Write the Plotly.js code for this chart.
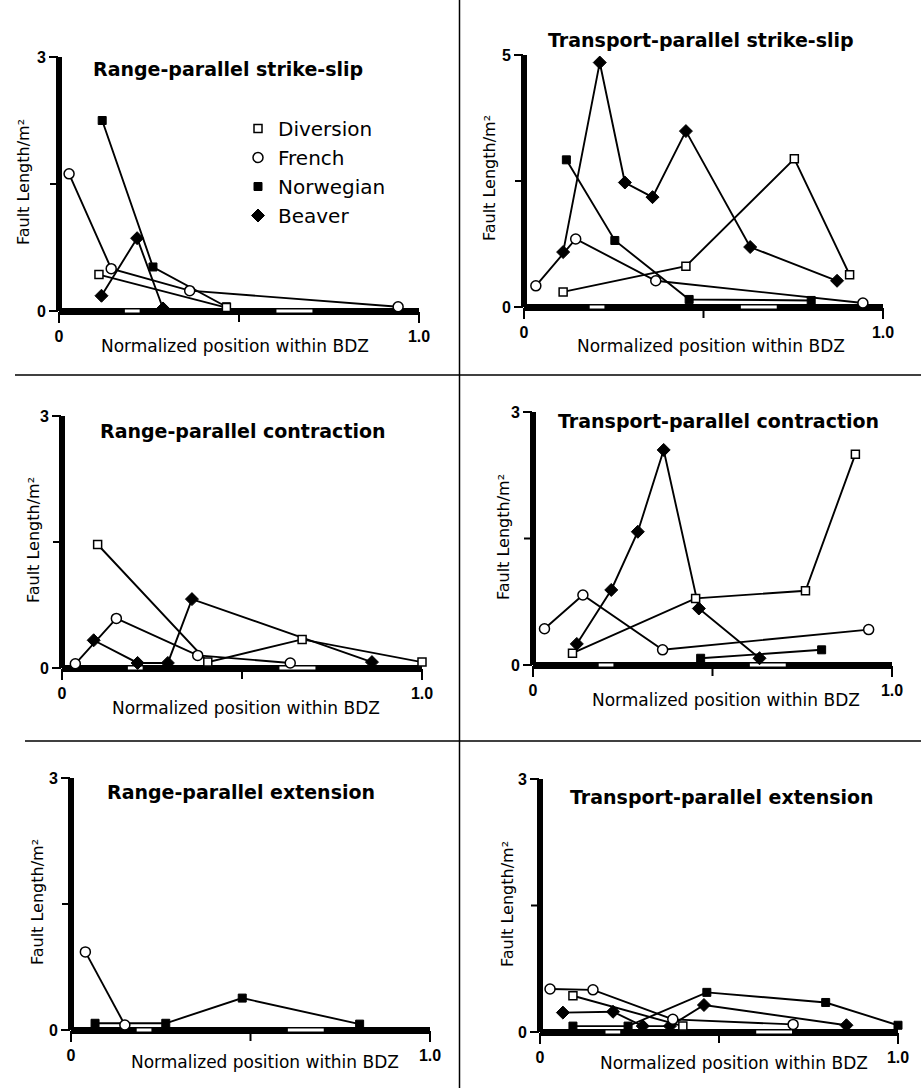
<!DOCTYPE html>
<html>
<head>
<meta charset="utf-8">
<script src="https://cdn.plot.ly/plotly-3.0.1.min.js"></script>
<style>html,body{margin:0;padding:0;background:#fff;}#chart{width:921px;height:1088px;}</style>
</head>
<body>
<div id="chart"></div>
<script>
// ---------- data ----------
const seriesNames = ['Diversion', 'French', 'Norwegian', 'Beaver'];
const panelTitles = ['Range-parallel strike-slip', 'Transport-parallel strike-slip',
  'Range-parallel contraction', 'Transport-parallel contraction',
  'Range-parallel extension', 'Transport-parallel extension'];
const yMaxes = [3, 5, 3, 3, 3, 3];
const xTickVals = [0, 1];
const xTickText = ['0', '1.0'];
const xMidTick = 0.5;
const xAxisTitle = 'Normalized position within BDZ';
const yAxisTitle = 'Fault Length/m²';
const zoneA = [0.183, 0.224];
const zoneB = [0.604, 0.704];

// Panel 1: Range-parallel strike-slip
const rpssDivX = [0.111, 0.465], rpssDivY = [0.43, 0.04];
const rpssFreX = [0.028, 0.145, 0.363, 0.942], rpssFreY = [1.62, 0.50, 0.24, 0.05];
const rpssNorX = [0.120, 0.261, 0.465], rpssNorY = [2.25, 0.52, 0.05];
const rpssBeaX = [0.118, 0.217, 0.289], rpssBeaY = [0.18, 0.86, 0.03];
// Panel 2: Transport-parallel strike-slip
const tpssDivX = [0.109, 0.451, 0.753, 0.907], tpssDivY = [0.30, 0.81, 2.94, 0.64];
const tpssFreX = [0.033, 0.144, 0.367, 0.944], tpssFreY = [0.42, 1.35, 0.52, 0.08];
const tpssNorX = [0.118, 0.253, 0.460, 0.800], tpssNorY = [2.92, 1.32, 0.15, 0.13];
const tpssBeaX = [0.109, 0.211, 0.281, 0.358, 0.451, 0.630, 0.872];
const tpssBeaY = [1.09, 4.85, 2.47, 2.18, 3.49, 1.19, 0.52];
// Panel 3: Range-parallel contraction
const rpcDivX = [0.099, 0.405, 0.667, 1.0], rpcDivY = [1.47, 0.07, 0.34, 0.07];
const rpcFreX = [0.037, 0.151, 0.377, 0.634], rpcFreY = [0.05, 0.59, 0.15, 0.06];
const rpcNorX = [], rpcNorY = [];
const rpcBeaX = [0.088, 0.210, 0.294, 0.361, 0.861], rpcBeaY = [0.33, 0.06, 0.06, 0.82, 0.07];
// Panel 4: Transport-parallel contraction
const tpcDivX = [0.110, 0.453, 0.759, 0.898], tpcDivY = [0.14, 0.79, 0.88, 2.50];
const tpcFreX = [0.032, 0.139, 0.361, 0.935], tpcFreY = [0.43, 0.83, 0.18, 0.42];
const tpcNorX = [0.467, 0.804], tpcNorY = [0.08, 0.18];
const tpcBeaX = [0.122, 0.218, 0.292, 0.364, 0.462, 0.631], tpcBeaY = [0.25, 0.89, 1.58, 2.55, 0.67, 0.08];
// Panel 5: Range-parallel extension
const rpeDivX = [], rpeDivY = [];
const rpeFreX = [0.040, 0.150], rpeFreY = [0.93, 0.06];
const rpeNorX = [0.067, 0.264, 0.477, 0.804], rpeNorY = [0.08, 0.08, 0.38, 0.07];
const rpeBeaX = [], rpeBeaY = [];
// Panel 6: Transport-parallel extension
const tpeDivX = [0.092, 0.399], tpeDivY = [0.43, 0.07];
const tpeFreX = [0.028, 0.148, 0.371, 0.707], tpeFreY = [0.51, 0.50, 0.15, 0.09];
const tpeNorX = [0.092, 0.246, 0.466, 0.798, 1.0], tpeNorY = [0.07, 0.07, 0.47, 0.35, 0.08];
const tpeBeaX = [0.064, 0.204, 0.287, 0.363, 0.458, 0.856], tpeBeaY = [0.23, 0.24, 0.07, 0.07, 0.32, 0.08];

// ---------- layout geometry (pixels) ----------
const W = 921, H = 1088;
// [x at 0, x at 1, y at 0, y at ymax]
const panelPx = [
  [59, 419, 311, 57],
  [524, 883, 307, 55],
  [62, 422, 668, 416],
  [533, 892, 665, 412],
  [71, 430, 1030, 778],
  [540, 898, 1032, 779]
];
const titlePos = [[228, 69], [701, 40], [243, 431], [718, 421], [241, 792], [722, 797]];
const xTitlePos = [[235, 346], [711, 346], [246, 708], [726, 700], [265, 1062], [734, 1063]];
const yTitlePos = [[24, 182], [490, 178], [33, 540], [503, 537], [37, 902], [507, 904]];

const panelData = [
  [[rpssDivX, rpssDivY], [rpssFreX, rpssFreY], [rpssNorX, rpssNorY], [rpssBeaX, rpssBeaY]],
  [[tpssDivX, tpssDivY], [tpssFreX, tpssFreY], [tpssNorX, tpssNorY], [tpssBeaX, tpssBeaY]],
  [[rpcDivX, rpcDivY], [rpcFreX, rpcFreY], [rpcNorX, rpcNorY], [rpcBeaX, rpcBeaY]],
  [[tpcDivX, tpcDivY], [tpcFreX, tpcFreY], [tpcNorX, tpcNorY], [tpcBeaX, tpcBeaY]],
  [[rpeDivX, rpeDivY], [rpeFreX, rpeFreY], [rpeNorX, rpeNorY], [rpeBeaX, rpeBeaY]],
  [[tpeDivX, tpeDivY], [tpeFreX, tpeFreY], [tpeNorX, tpeNorY], [tpeBeaX, tpeBeaY]]
];

const markerStyles = {
  'Diversion': {symbol: 'square', size: 8, color: 'white', line: {color: 'black', width: 1.5}},
  'French': {symbol: 'circle', size: 10, color: 'white', line: {color: 'black', width: 1.5}},
  'Norwegian': {symbol: 'square', size: 8, color: 'black', line: {color: 'black', width: 1}},
  'Beaver': {symbol: 'diamond', size: 10, color: 'black', line: {color: 'black', width: 1}}
};
const drawOrder = [3, 2, 0, 1]; // Beaver, Norwegian, Diversion, French

const traces = [];
const layout = {
  width: W, height: H,
  margin: {l: 0, r: 0, t: 0, b: 0},
  paper_bgcolor: 'white', plot_bgcolor: 'rgba(0,0,0,0)',
  showlegend: true,
  legend: {
    x: 238 / W, y: 1 - 109 / H, xanchor: 'left', yanchor: 'top',
    bgcolor: 'rgba(0,0,0,0)', borderwidth: 0,
    font: {family: 'DejaVu Sans', size: 20, color: 'black'},
    itemwidth: 30, tracegroupgap: 0, itemclick: false
  },
  shapes: [], annotations: []
};

const fx = px => px / W;
const fy = py => 1 - py / H;
const tickFont = {family: 'Liberation Sans', size: 16, color: 'black', weight: 'bold'};

panelPx.forEach((p, i) => {
  const k = i === 0 ? '' : String(i + 1);
  const xid = 'x' + k, yid = 'y' + k;
  const ymax = yMaxes[i];
  layout['xaxis' + k] = {
    domain: [fx(p[0]), fx(p[1])], range: [0, 1], anchor: yid,
    showgrid: false, zeroline: false, showline: false, fixedrange: true,
    ticks: 'outside', ticklen: 11, tickwidth: 2, tickcolor: 'black',
    tickvals: xTickVals, ticktext: xTickText, ticklabelstandoff: 0,
    tickfont: tickFont
  };
  layout['yaxis' + k] = {
    domain: [fy(p[2]), fy(p[3])], range: [0, ymax], anchor: xid,
    showgrid: false, zeroline: false, showline: false, fixedrange: true,
    ticks: 'outside', ticklen: 9, tickwidth: 2, tickcolor: 'black',
    tickvals: [0, ymax], ticktext: ['0', String(ymax)],
    tickfont: tickFont
  };
  // thick x-axis bar with white zone marks
  layout.shapes.push({type: 'rect', xref: xid, yref: yid + ' domain', x0: 0, x1: 1, ysizemode: 'pixel', yanchor: 0,
    y0: -4, y1: 3, fillcolor: 'black', line: {width: 0}, layer: 'below'});
  [zoneA, zoneB].forEach(z => layout.shapes.push({type: 'rect', xref: xid, yref: yid + ' domain', x0: z[0], x1: z[1],
    ysizemode: 'pixel', yanchor: 0, y0: -1.5, y1: 1.5, fillcolor: 'white', line: {width: 0}, layer: 'below'}));
  // thick y-axis
  layout.shapes.push({type: 'rect', xref: xid + ' domain', yref: yid, xsizemode: 'pixel', xanchor: 0, x0: -3, x1: 3,
    y0: 0, y1: ymax, fillcolor: 'black', line: {width: 0}, layer: 'below'});
  // unlabeled middle ticks
  layout.shapes.push({type: 'line', xref: xid + ' domain', yref: yid, xsizemode: 'pixel', xanchor: 0, x0: -9, x1: 0,
    y0: ymax / 2, y1: ymax / 2, line: {color: 'black', width: 2}});
  layout.shapes.push({type: 'line', xref: xid, yref: yid + ' domain', ysizemode: 'pixel', yanchor: 0, y0: -11, y1: 0,
    x0: xMidTick, x1: xMidTick, line: {color: 'black', width: 2}});

  drawOrder.forEach(s => {
    const d = panelData[i][s];
    if (!d[0].length) return;
    traces.push({
      type: 'scatter', mode: 'lines+markers', name: seriesNames[s],
      x: d[0], y: d[1], xaxis: xid, yaxis: yid, cliponaxis: false, showlegend: false,
      line: {color: 'black', width: 1.9}, marker: markerStyles[seriesNames[s]], hoverinfo: 'skip'
    });
  });

  layout.annotations.push({xref: 'paper', yref: 'paper', x: fx(titlePos[i][0]), y: fy(titlePos[i][1]),
    xanchor: 'center', yanchor: 'middle', showarrow: false, text: panelTitles[i],
    font: {family: 'DejaVu Sans', size: 19, color: 'black', weight: 'bold'}});
  layout.annotations.push({xref: 'paper', yref: 'paper', x: fx(xTitlePos[i][0]), y: fy(xTitlePos[i][1]),
    xanchor: 'center', yanchor: 'middle', showarrow: false, text: xAxisTitle,
    font: {family: 'DejaVu Sans', size: 17, color: 'black'}});
  layout.annotations.push({xref: 'paper', yref: 'paper', x: fx(yTitlePos[i][0]), y: fy(yTitlePos[i][1]),
    xanchor: 'center', yanchor: 'middle', showarrow: false, text: yAxisTitle, textangle: -90,
    font: {family: 'DejaVu Sans', size: 16, color: 'black'}});
});

// legend entries (markers only)
seriesNames.forEach(n => traces.push({
  type: 'scatter', mode: 'markers', name: n, x: [null], y: [null], xaxis: 'x', yaxis: 'y',
  marker: markerStyles[n], showlegend: true, hoverinfo: 'skip'
}));

// panel divider lines
layout.shapes.push({type: 'line', xref: 'paper', yref: 'paper', x0: fx(459.5), x1: fx(459.5), y0: 0, y1: 1,
  line: {color: 'black', width: 1.5}});
layout.shapes.push({type: 'line', xref: 'paper', yref: 'paper', x0: fx(15), x1: 1, y0: fy(375), y1: fy(375),
  line: {color: 'black', width: 1.5}});
layout.shapes.push({type: 'line', xref: 'paper', yref: 'paper', x0: fx(25), x1: 1, y0: fy(741), y1: fy(741),
  line: {color: 'black', width: 1.5}});

Plotly.newPlot('chart', traces, layout, {staticPlot: true, displayModeBar: false});
</script>
</body>
</html>
